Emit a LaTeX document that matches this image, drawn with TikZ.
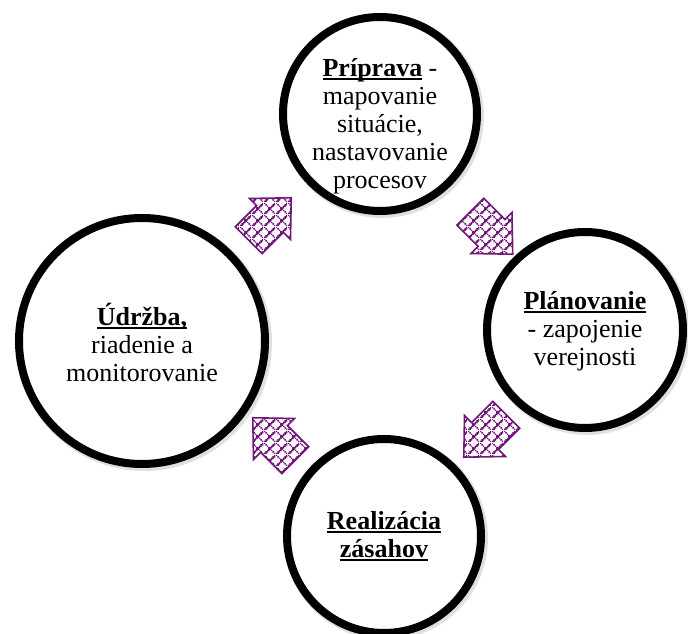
\documentclass[tikz,border=0pt]{standalone}
\usepackage{fontspec}
\setmainfont{Liberation Serif}
\usetikzlibrary{patterns}
\definecolor{arrowpurple}{RGB}{112,24,120}
\newcommand{\pxcell}[2]{\pgfpathrectangle{\pgfpoint{#1pt}{#2pt}}{\pgfpoint{1.5pt}{1.5pt}}}
\pgfdeclarepatternformonly{pixweave}{\pgfpointorigin}{\pgfpoint{12pt}{12pt}}{\pgfpoint{12pt}{12pt}}{%
  \pxcell{0}{0}\pxcell{1.5}{1.5}\pxcell{3}{3}\pxcell{4.5}{4.5}%
  \pxcell{6}{6}\pxcell{7.5}{7.5}\pxcell{9}{9}\pxcell{10.5}{10.5}%
  \pxcell{1.5}{0}\pxcell{3}{1.5}\pxcell{4.5}{3}\pxcell{6}{4.5}%
  \pxcell{7.5}{6}\pxcell{9}{7.5}\pxcell{10.5}{9}\pxcell{0}{10.5}%
  \pxcell{1.5}{9}\pxcell{3}{7.5}\pxcell{4.5}{6}\pxcell{7.5}{3}%
  \pxcell{9}{1.5}\pxcell{10.5}{0}%
  \pgfusepath{fill}}
\newcommand{\myul}[1]{\setbox0\hbox{#1}\rlap{\rule[-3.5pt]{\wd0}{1.6pt}}\box0\relax}
\tikzset{
  pics/cyclearrow/.style={code={
    \draw[blockarrow] (-30,-19) -- (0,-19) -- (0,-29) -- (30,0) -- (0,29) -- (0,19) -- (-30,19) -- cycle;}}
}
\begin{document}
\begin{tikzpicture}[x=1pt,y=1pt,
  ring/.style={circle, draw=black, line width=8pt, fill=white, inner sep=0pt},
  ringshadow/.style={fill=black, opacity=0.12},
  labeltext/.style={align=center, font=\fontsize{26}{28}\selectfont, inner sep=0pt},
  blockarrow/.style={preaction={fill=white}, pattern=pixweave, pattern color=arrowpurple,
    draw=arrowpurple, line width=1.6pt, line join=miter}]
\useasboundingbox (0,0) rectangle (688,634);
% shadows
\fill[ringshadow] (382,518) circle (102);
\fill[ringshadow] (587,302) circle (103);
\fill[ringshadow] (386,96) circle (102);
\fill[ringshadow] (144,291) circle (128);
% circles
\node[ring, minimum size=194pt] (prep) at (380,520) {};
\node[ring, minimum size=196pt] (plan) at (585,304) {};
\node[ring, minimum size=194pt] (real) at (384,98) {};
\node[ring, minimum size=246pt] (udr) at (142,293) {};
% texts
\node[labeltext] (prept) at (prep.center) [yshift=-12pt] {\myul{\textbf{Príprava}} -\\mapovanie\\situácie,\\nastavovanie\\procesov};
\node[labeltext] (plant) at (plan.center) [yshift=-1pt] {\myul{\textbf{Plánovanie}}\\- zapojenie\\verejnosti};
\node[labeltext] (realt) at (real.center) {\myul{\textbf{Realizácia}}\\\myul{\textbf{zásahov}}};
\node[labeltext] (udrt) at (udr.center) [yshift=-1pt] {\myul{\textbf{Údržba,}}\\riadenie a\\monitorovanie};
% arrows
\pic[rotate=45] (arr1) at (270,415) {cyclearrow};
\pic[rotate=-45] (arr2) at (491.5,401) {cyclearrow};
\pic[rotate=-135] (arr3) at (485,198) {cyclearrow};
\pic[rotate=135] (arr4) at (274,195) {cyclearrow};
\end{tikzpicture}
\end{document}
